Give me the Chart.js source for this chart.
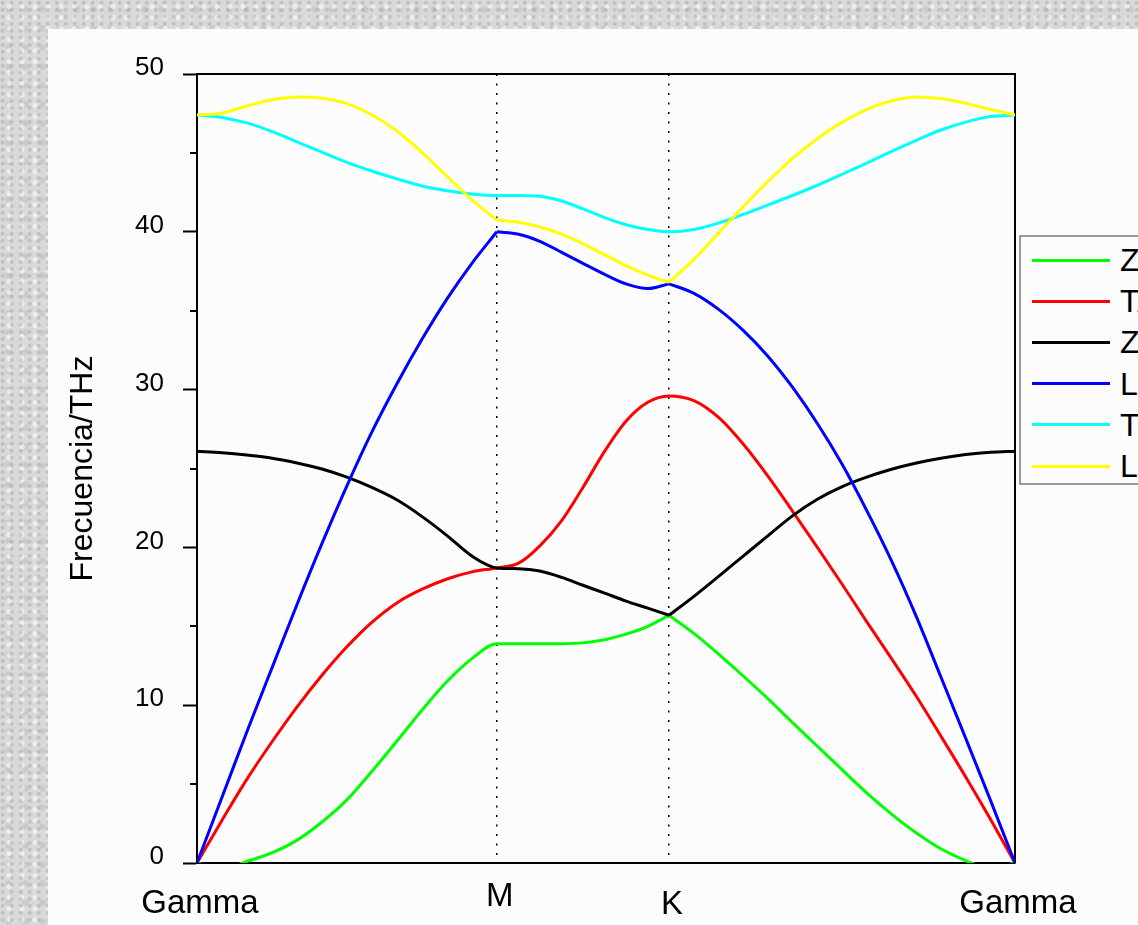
<!DOCTYPE html>
<html>
<head>
<meta charset="utf-8">
<script src="https://cdn.jsdelivr.net/npm/chart.js@4.4.1/dist/chart.umd.min.js"></script>
<style>
  html, body { margin: 0; padding: 0; width: 1138px; height: 925px; overflow: hidden; }
  body {
    position: relative;
    background-color: #d9d9d9;
    background-image:
      radial-gradient(circle at 30% 40%, rgba(150,150,150,.35) 0 1.5px, transparent 2.5px),
      radial-gradient(circle at 70% 60%, rgba(255,255,255,.55) 0 2px, transparent 3px),
      radial-gradient(circle at 50% 50%, rgba(150,150,150,.22) 0 2.5px, transparent 4px);
    background-size: 9px 7px, 13px 11px, 17px 19px;
  }
  #panel { position: absolute; left: 48px; top: 29px; width: 1090px; height: 896px;
    background: #fcfcfc; overflow: hidden; }
  #chart { position: absolute; left: 0; top: 0; }
  #legend { position: absolute; left: 971px; top: 206px; width: 240px; height: 246px;
    border: 2px solid #999; background: #fcfcfc;
    font: 32px 'Liberation Sans', Arial, sans-serif; color: #000; }
  #legend .ln { position: absolute; left: 11px; width: 78px; height: 3px; }
  #legend .tx { position: absolute; left: 99px; line-height: 32px; white-space: nowrap; }
</style>
</head>
<body>
<div id="panel">
  <canvas id="chart" width="1090" height="896"></canvas>
  <div id="legend"></div>
</div>
<script>
'use strict';
const FONT = "'Liberation Sans', Arial, sans-serif";

// path coordinate along Gamma-M-K-Gamma
const K_PATH = [0, 0.048, 0.096, 0.145, 0.193, 0.241, 0.289, 0.337, 0.386, 0.434, 0.482, 0.530, 0.578,
  0.620, 0.661, 0.703, 0.744, 0.786, 0.827, 0.869, 0.910,
  0.958, 1.005, 1.053, 1.101, 1.148, 1.196, 1.244, 1.291, 1.339, 1.387, 1.434, 1.482, 1.530, 1.577];
const TICK_POS = [0, 0.578, 0.910, 1.577];
const TICK_LABELS = ['Gamma', 'M', 'K', 'Gamma'];
const MINOR_TICKS = [5, 15, 25, 35, 45];

const MODES = ['ZA', 'TA', 'ZO', 'LA', 'TO', 'LO'];
const COLORS = ['#00ff00', '#ff0000', '#000000', '#0000ff', '#00ffff', '#ffff00'];
// indices (M = 12, K = 20) where a branch has a kink
const KINKS = [[20], [], [20], [12, 20], [], [12, 20]];

const ZA = [0, -0.4, 0.1, 0.65, 1.45, 2.6, 4.0, 5.8, 7.75, 9.7, 11.5, 12.95, 13.9,
  13.9, 13.9, 13.9, 13.95, 14.15, 14.5, 15.0, 15.7,
  14.55, 13.25, 11.85, 10.4, 8.9, 7.4, 5.9, 4.45, 3.1, 1.9, 0.9, 0.15, -0.35, 0];
const TA = [0, 2.7, 5.3, 7.7, 9.9, 11.9, 13.7, 15.25, 16.5, 17.35, 18.0, 18.45, 18.7,
  19.0, 20.1, 21.7, 23.8, 26.1, 28.0, 29.2, 29.6,
  29.3, 28.25, 26.55, 24.5, 22.3, 20.0, 17.65, 15.3, 12.95, 10.55, 8.05, 5.45, 2.75, 0];
const ZO = [26.1, 26.0, 25.85, 25.65, 25.35, 24.97, 24.45, 23.8, 23.0, 21.95, 20.75, 19.45, 18.7,
  18.65, 18.5, 18.1, 17.6, 17.1, 16.6, 16.15, 15.7,
  16.9, 18.15, 19.45, 20.75, 22.0, 23.05, 23.85, 24.45, 24.95, 25.35, 25.65, 25.88, 26.03, 26.1];
const LA = [0, 4.15, 8.3, 12.4, 16.4, 20.25, 23.9, 27.3, 30.4, 33.2, 35.75, 38.0, 40.0,
  39.85, 39.4, 38.7, 38.0, 37.3, 36.7, 36.4, 36.7,
  36.1, 35.1, 33.75, 32.1, 30.15, 27.85, 25.25, 22.35, 19.15, 15.6, 11.8, 7.9, 3.95, 0];
const TO = [47.4, 47.25, 46.9, 46.35, 45.7, 45.05, 44.4, 43.85, 43.35, 42.9, 42.6, 42.4, 42.3,
  42.3, 42.25, 41.95, 41.45, 40.9, 40.45, 40.15, 40.0,
  40.15, 40.55, 41.1, 41.7, 42.3, 42.95, 43.65, 44.35, 45.1, 45.8, 46.45, 46.95, 47.3, 47.4];
const LO = [47.4, 47.52, 47.97, 48.37, 48.55, 48.47, 48.12, 47.42, 46.37, 45.02, 43.52, 42.02, 40.75,
  40.6, 40.3, 39.85, 39.25, 38.55, 37.85, 37.25, 36.8,
  38.25, 39.9, 41.6, 43.2, 44.65, 45.9, 46.95, 47.75, 48.3, 48.55, 48.45, 48.15, 47.75, 47.4];
const SERIES = [ZA, TA, ZO, LA, TO, LO];

// a kinked branch is cut into pieces so the spline does not round the corner
function points(vals, kinks) {
  const out = [];
  vals.forEach((v, i) => {
    out.push({ x: K_PATH[i], y: v });
    if (kinks.includes(i)) { out.push({ x: K_PATH[i], y: null }); out.push({ x: K_PATH[i], y: v }); }
  });
  return out;
}

const datasets = SERIES.map((vals, i) => ({
  label: MODES[i], data: points(vals, KINKS[i]), borderColor: COLORS[i], borderWidth: 3,
  pointRadius: 0, fill: false, cubicInterpolationMode: 'monotone', spanGaps: false,
  order: SERIES.length - 1 - i,
}));

const framePlugin = {
  id: 'frame',
  beforeDatasetsDraw(chart) {
    const { ctx, chartArea: a, scales: { y } } = chart;
    ctx.save();
    ctx.strokeStyle = '#000'; ctx.lineWidth = 2;
    ctx.beginPath();
    ctx.moveTo(a.left, a.top); ctx.lineTo(a.right, a.top); ctx.lineTo(a.right, a.bottom);
    MINOR_TICKS.forEach((v) => {
      const py = Math.round(y.getPixelForValue(v));
      ctx.moveTo(a.left - 7, py); ctx.lineTo(a.left, py);
    });
    ctx.stroke();
    ctx.restore();
  }
};

new Chart(document.getElementById('chart').getContext('2d'), {
  type: 'line',
  data: { datasets },
  plugins: [framePlugin],
  options: {
    responsive: false, animation: false, events: [],
    layout: { padding: { top: 45, right: 123, left: 0, bottom: 0 } },
    plugins: { legend: { display: false }, tooltip: { enabled: false } },
    scales: {
      x: {
        type: 'linear', min: 0, max: 1.577,
        afterBuildTicks: (s) => { s.ticks = TICK_POS.map((v) => ({ value: v })); },
        afterFit: (s) => { s.height = 62; },
        grid: {
          drawTicks: false, lineWidth: 1.5,
          color: (c) => (c.index === 1 || c.index === 2) ? '#000' : 'rgba(0,0,0,0)',
        },
        border: { display: true, color: '#000', width: 2, dash: [2, 7.5] },
        ticks: {
          autoSkip: false, maxRotation: 0, color: '#000', padding: 23, labelOffset: 3,
          callback: (v, i) => TICK_LABELS[i],
          font: (c) => ({ family: FONT, size: 33, lineHeight: c.index === 1 ? '22px' : (c.index === 2 ? '38px' : '36px') }),
        },
      },
      y: {
        min: 0, max: 50,
        afterFit: (s) => { s.width = 149; },
        grid: { drawOnChartArea: false, drawTicks: true, tickLength: 14, tickWidth: 2, tickColor: '#000' },
        border: { display: true, color: '#000', width: 2 },
        ticks: { stepSize: 10, color: '#000', padding: 19, labelOffset: -6,
          font: { family: FONT, size: 26 } },
        title: { display: true, text: 'Frecuencia/THz', color: '#000',
          font: { family: FONT, size: 32 }, padding: { top: 16, bottom: 0 } },
      },
    },
  },
});

// legend box (partly cut off by the window edge, as in the original)
const lg = document.getElementById('legend');
MODES.forEach((m, i) => {
  const c = 23 + 41.2 * i;
  const ln = document.createElement('div'); ln.className = 'ln';
  ln.style.top = (c - 1.5) + 'px'; ln.style.background = COLORS[i];
  const tx = document.createElement('div'); tx.className = 'tx';
  tx.style.top = (c - 16) + 'px'; tx.textContent = m;
  lg.appendChild(ln); lg.appendChild(tx);
});
</script>
</body>
</html>
